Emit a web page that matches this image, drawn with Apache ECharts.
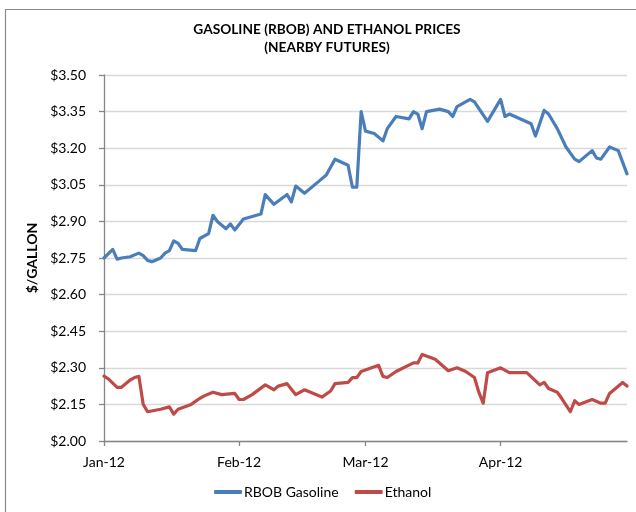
<!DOCTYPE html>
<html>
<head>
<meta charset="utf-8">
<script src="https://cdn.jsdelivr.net/npm/echarts@6/dist/echarts.min.js"></script>
<style>
  html, body { margin: 0; padding: 0; background: #fff; overflow: hidden; }
  #chart { width: 636px; height: 512px; }
</style>
</head>
<body>
<div id="chart"></div>
<script>
const titleLines = ['GASOLINE (RBOB) AND ETHANOL PRICES', '(NEARBY FUTURES)'];
const yAxisTitle = '$/GALLON';
const seriesNames = ['RBOB Gasoline', 'Ethanol'];

const monthTicks = ['2012-01-01', '2012-02-01', '2012-03-01', '2012-04-01'];
const monthLabels = ['Jan-12', 'Feb-12', 'Mar-12', 'Apr-12'];
const xStart = '2012-01-01';
const xEnd = '2012-04-30';

const yMin = 2.00, yMax = 3.50, yStep = 0.15;

const gasDates = [
  '2012-01-01','2012-01-03','2012-01-04','2012-01-05','2012-01-07','2012-01-09','2012-01-10','2012-01-11',
  '2012-01-12','2012-01-14','2012-01-15','2012-01-16','2012-01-17','2012-01-18','2012-01-19','2012-01-22',
  '2012-01-23','2012-01-25','2012-01-26','2012-01-27','2012-01-29','2012-01-30','2012-01-31','2012-02-02',
  '2012-02-06','2012-02-07','2012-02-09','2012-02-12','2012-02-13','2012-02-14','2012-02-16','2012-02-19',
  '2012-02-21','2012-02-23','2012-02-26','2012-02-27','2012-02-28','2012-02-29','2012-03-01','2012-03-03',
  '2012-03-05','2012-03-06','2012-03-08','2012-03-11','2012-03-12','2012-03-13','2012-03-14','2012-03-15',
  '2012-03-18','2012-03-20','2012-03-21','2012-03-22','2012-03-25','2012-03-26','2012-03-29','2012-04-01',
  '2012-04-02','2012-04-03','2012-04-08','2012-04-09','2012-04-11','2012-04-12','2012-04-14','2012-04-16',
  '2012-04-18','2012-04-19','2012-04-22','2012-04-23','2012-04-24','2012-04-26','2012-04-28','2012-04-30'
];
const gasPrices = [
  2.750, 2.785, 2.745, 2.750, 2.755, 2.770, 2.760, 2.740,
  2.735, 2.750, 2.770, 2.780, 2.820, 2.810, 2.785, 2.780,
  2.830, 2.850, 2.925, 2.900, 2.870, 2.890, 2.865, 2.910,
  2.930, 3.010, 2.970, 3.010, 2.980, 3.045, 3.015, 3.060,
  3.090, 3.155, 3.130, 3.040, 3.040, 3.350, 3.270, 3.260,
  3.230, 3.280, 3.330, 3.320, 3.350, 3.340, 3.280, 3.350,
  3.360, 3.350, 3.330, 3.370, 3.400, 3.390, 3.310, 3.400,
  3.330, 3.340, 3.300, 3.250, 3.355, 3.340, 3.280, 3.205,
  3.155, 3.145, 3.190, 3.160, 3.155, 3.205, 3.190, 3.095
];

const ethDates = [
  '2012-01-01','2012-01-02','2012-01-04','2012-01-05','2012-01-07','2012-01-08','2012-01-09','2012-01-10',
  '2012-01-11','2012-01-14','2012-01-16','2012-01-17','2012-01-18','2012-01-21','2012-01-23','2012-01-24',
  '2012-01-26','2012-01-28','2012-01-31','2012-02-01','2012-02-02','2012-02-04','2012-02-07','2012-02-09',
  '2012-02-10','2012-02-12','2012-02-14','2012-02-16','2012-02-20','2012-02-22','2012-02-23','2012-02-26',
  '2012-02-27','2012-02-28','2012-02-29','2012-03-04','2012-03-05','2012-03-06','2012-03-08','2012-03-12',
  '2012-03-13','2012-03-14','2012-03-17','2012-03-20','2012-03-22','2012-03-24','2012-03-26','2012-03-27',
  '2012-03-28','2012-03-29','2012-04-01','2012-04-03','2012-04-07','2012-04-10','2012-04-11','2012-04-12',
  '2012-04-14','2012-04-15','2012-04-17','2012-04-18','2012-04-19','2012-04-22','2012-04-24','2012-04-25',
  '2012-04-26','2012-04-29','2012-04-30'
];
const ethPrices = [
  2.266, 2.255, 2.220, 2.220, 2.250, 2.260, 2.265, 2.150,
  2.120, 2.130, 2.140, 2.110, 2.130, 2.150, 2.175, 2.185,
  2.200, 2.190, 2.195, 2.170, 2.170, 2.190, 2.230, 2.210,
  2.225, 2.235, 2.190, 2.210, 2.180, 2.205, 2.235, 2.240,
  2.260, 2.260, 2.285, 2.310, 2.265, 2.260, 2.285, 2.320,
  2.320, 2.355, 2.335, 2.288, 2.300, 2.285, 2.260, 2.200,
  2.155, 2.280, 2.300, 2.280, 2.280, 2.230, 2.240, 2.215,
  2.200, 2.175, 2.120, 2.165, 2.150, 2.170, 2.155, 2.155,
  2.195, 2.240, 2.225
];

const colors = ['#4A7EBB', '#BE4B48'];
const FONT = 'Lato, "Open Sans", sans-serif';

function t(s) {
  const p = s.split('-').map(Number);
  return Date.UTC(p[0], p[1] - 1, p[2]);
}
const tickTimes = monthTicks.map(t);

const chart = echarts.init(document.getElementById('chart'), null, { renderer: 'canvas' });
chart.setOption({
  animation: false,
  backgroundColor: '#ffffff',
  textStyle: { fontFamily: FONT },
  title: {
    text: titleLines.join('\n'),
    left: 322,
    textAlign: 'center',
    top: 16,
    textStyle: { fontFamily: FONT, fontSize: 13.7, fontWeight: 'bold', color: '#000', lineHeight: 18 }
  },
  graphic: [{
    type: 'rect',
    shape: { x: 5.5, y: 9.5, width: 700, height: 600 },
    style: { fill: 'none', stroke: '#8a8a8a', lineWidth: 1.2 },
    silent: true
  }],
  legend: {
    left: 214,
    top: 485,
    padding: 0,
    itemGap: 16,
    itemWidth: 28,
    itemHeight: 4,
    icon: 'roundRect',
    textStyle: { fontFamily: FONT, fontSize: 14, color: '#000', padding: [0, 0, 0, -3] },
    data: seriesNames
  },
  grid: { left: 104, right: 9, top: 75, bottom: 71, containLabel: false },
  xAxis: {
    type: 'value',
    min: t(xStart),
    max: t(xEnd),
    axisLine: { show: true, onZero: false, lineStyle: { color: '#868686', width: 1.3 } },
    axisTick: { show: true, length: 5, inside: false, customValues: tickTimes, lineStyle: { color: '#868686', width: 1.3 } },
    axisLabel: {
      customValues: tickTimes,
      margin: 14,
      fontFamily: FONT, fontSize: 14, color: '#000',
      formatter: function (v) {
        const i = tickTimes.indexOf(v);
        return i >= 0 ? monthLabels[i] : '';
      }
    },
    splitLine: { show: false }
  },
  yAxis: {
    type: 'value',
    min: yMin, max: yMax, interval: yStep,
    name: yAxisTitle,
    nameLocation: 'middle',
    nameGap: 58,
    nameRotate: 90,
    nameTextStyle: { fontFamily: FONT, fontSize: 14, fontWeight: 'bold', color: '#000' },
    axisLine: { show: true, lineStyle: { color: '#868686', width: 1.3 } },
    axisTick: { show: true, length: 5, lineStyle: { color: '#868686', width: 1.3 } },
    axisLabel: {
      margin: 18,
      fontFamily: FONT, fontSize: 14, color: '#000',
      formatter: function (v) { return '$' + v.toFixed(2); }
    },
    splitLine: { show: true, lineStyle: { color: '#d9d9d9', width: 1.3 } }
  },
  series: [
    {
      name: seriesNames[0], type: 'line', showSymbol: false, symbol: 'none',
      data: gasDates.map((d, i) => [t(d), gasPrices[i]]),
      lineStyle: { color: colors[0], width: 3.2, join: 'round', cap: 'round' },
      itemStyle: { color: colors[0] }
    },
    {
      name: seriesNames[1], type: 'line', showSymbol: false, symbol: 'none',
      data: ethDates.map((d, i) => [t(d), ethPrices[i]]),
      lineStyle: { color: colors[1], width: 3.2, join: 'round', cap: 'round' },
      itemStyle: { color: colors[1] }
    }
  ]
});
</script>
</body>
</html>
